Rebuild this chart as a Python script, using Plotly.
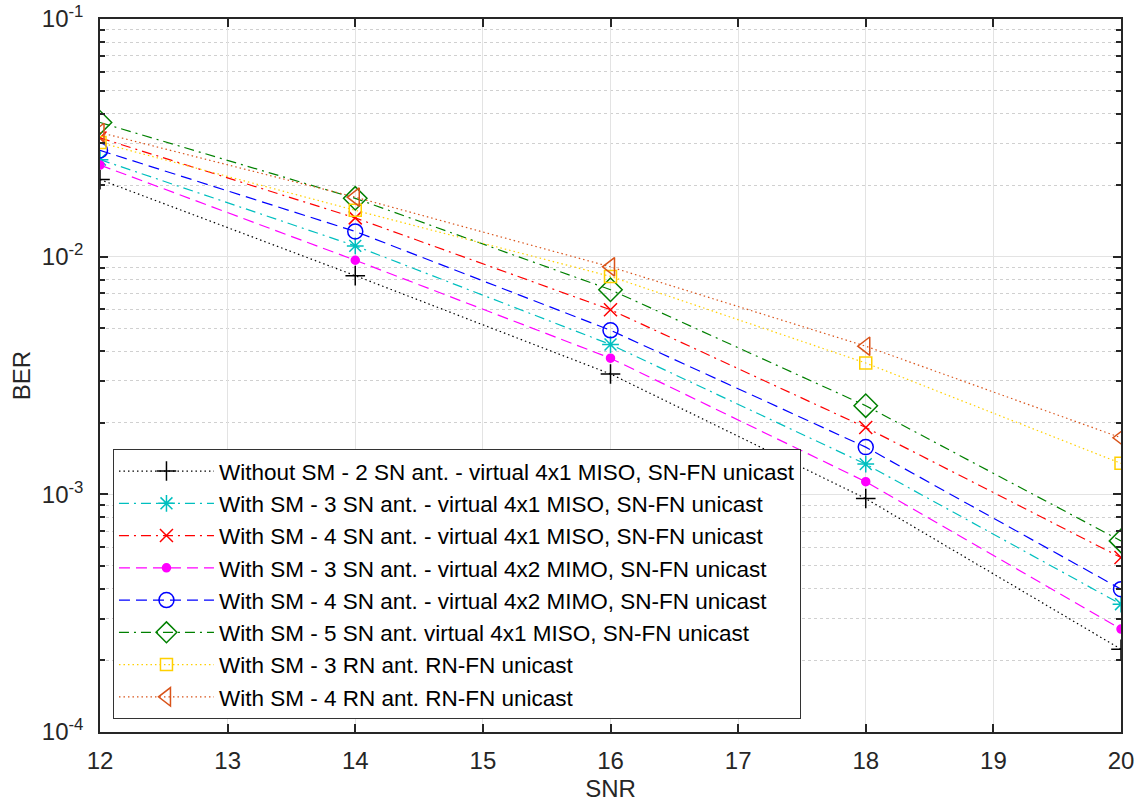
import plotly.graph_objects as go

snr = [12, 14, 16, 18, 20]

names = [
    "Without SM - 2 SN ant. - virtual 4x1 MISO, SN-FN unicast",
    "With SM - 3 SN ant. - virtual 4x1 MISO, SN-FN unicast",
    "With SM - 4 SN ant. - virtual 4x1 MISO, SN-FN unicast",
    "With SM - 3 SN ant. - virtual 4x2 MIMO, SN-FN unicast",
    "With SM - 4 SN ant. - virtual 4x2 MIMO, SN-FN unicast",
    "With SM - 5 SN ant. virtual 4x1 MISO, SN-FN unicast",
    "With SM - 3 RN ant. RN-FN unicast",
    "With SM - 4 RN ant. RN-FN unicast",
]

ber_nosm_2sn_miso = [0.0211, 0.00832, 0.00321, 0.00096, 0.000223]
ber_sm_3sn_miso = [0.0256, 0.0111, 0.00427, 0.00134, 0.000345]
ber_sm_4sn_miso = [0.0316, 0.01456, 0.00598, 0.00191, 0.000542]
ber_sm_3sn_mimo = [0.0243, 0.00966, 0.00374, 0.00113, 0.000271]
ber_sm_4sn_mimo = [0.0280, 0.01277, 0.0049, 0.00158, 0.000399]
ber_sm_5sn_miso = [0.0367, 0.0176, 0.00726, 0.00236, 0.000637]
ber_sm_3rn = [0.0302, 0.01567, 0.00826, 0.00357, 0.00135]
ber_sm_4rn = [0.0333, 0.0178, 0.00906, 0.0042, 0.00173]

series = [ber_nosm_2sn_miso, ber_sm_3sn_miso, ber_sm_4sn_miso, ber_sm_3sn_mimo,
          ber_sm_4sn_mimo, ber_sm_5sn_miso, ber_sm_3rn, ber_sm_4rn]

x_tickvals = [12, 13, 14, 15, 16, 17, 18, 19, 20]
y_tickvals = [1e-4, 1e-3, 1e-2, 1e-1]
y_ticktext = ["10<sup>-4</sup>", "10<sup>-3</sup>", "10<sup>-2</sup>", "10<sup>-1</sup>"]

DOT = "1.5px,3px"
DASH = "11px,6px"
DASHDOT = "10px,5px,2px,5px"

styles = [
    dict(color="#000000", dash=DOT, symbol="cross-thin-open", size=14),
    dict(color="#00BFBF", dash=DASHDOT, symbol="asterisk-open", size=14),
    dict(color="#FF0000", dash=DASHDOT, symbol="x-thin-open", size=13),
    dict(color="#FF00FF", dash=DASH, symbol="circle", size=8),
    dict(color="#0000FF", dash=DASH, symbol="circle-open", size=15),
    dict(color="#008000", dash=DASHDOT, symbol="diamond-open", size=18),
    dict(color="#FFD000", dash=DOT, symbol="square-open", size=12),
    dict(color="#D95319", dash=DOT, symbol="triangle-left-open", size=16),
]

fig = go.Figure()
for name, vals, st in zip(names, series, styles):
    fig.add_trace(go.Scatter(
        x=snr, y=vals, name=name, mode="lines+markers",
        line=dict(color=st["color"], width=1.2, dash=st["dash"]),
        marker=dict(symbol=st["symbol"], size=st["size"], color=st["color"],
                    line=dict(color=st["color"], width=1.5)),
    ))

minor_vals = [k * 10 ** e for e in (-4, -3, -2) for k in range(2, 10)]

axis_col = "#262626"
font_fam = "Liberation Sans, Arial, sans-serif"

fig.update_layout(
    width=1138, height=809,
    margin=dict(l=100, r=17, t=19, b=77),
    paper_bgcolor="white", plot_bgcolor="white",
    font=dict(family=font_fam, size=24, color=axis_col),
    showlegend=True,
    legend=dict(
        x=0.0127, y=0.397, xanchor="left", yanchor="top",
        bgcolor="white", bordercolor="#333333", borderwidth=1,
        font=dict(family=font_fam, size=22.5, color="#000000"),
        itemwidth=95, tracegroupgap=0,
    ),
    xaxis=dict(
        range=[12, 20], tickvals=x_tickvals,
        showgrid=True, gridcolor="#E3E3E3", gridwidth=1,
        showline=True, linecolor=axis_col, linewidth=1.5, mirror="ticks",
        ticks="inside", ticklen=8, tickcolor=axis_col, tickwidth=1.5,
        ticklabelstandoff=6, automargin=False, ticklabeloverflow="allow",
        tickfont=dict(size=24),
        title=dict(text="SNR", standoff=8, font=dict(size=24)),
        zeroline=False,
    ),
    yaxis=dict(
        type="log", range=[-4, -1],
        tickvals=y_tickvals, ticktext=y_ticktext,
        showgrid=True, gridcolor="#E3E3E3", gridwidth=1,
        showline=True, linecolor=axis_col, linewidth=1.5, mirror="ticks",
        ticks="inside", ticklen=8, tickcolor=axis_col, tickwidth=1.5,
        ticklabelstandoff=10, automargin=False, ticklabeloverflow="allow",
        tickfont=dict(size=24),
        minor=dict(tickvals=minor_vals, showgrid=True, gridcolor="#D0D0D0",
                   griddash="dot", gridwidth=1, ticks="inside", ticklen=5,
                   tickcolor=axis_col, tickwidth=1.5),
        title=dict(text="BER", standoff=4, font=dict(size=24)),
        zeroline=False,
    ),
)

fig.write_html(
    "out.html",
    config={"displayModeBar": False},
    post_script="document.body.style.margin='0';document.body.style.overflow='hidden';",
)
